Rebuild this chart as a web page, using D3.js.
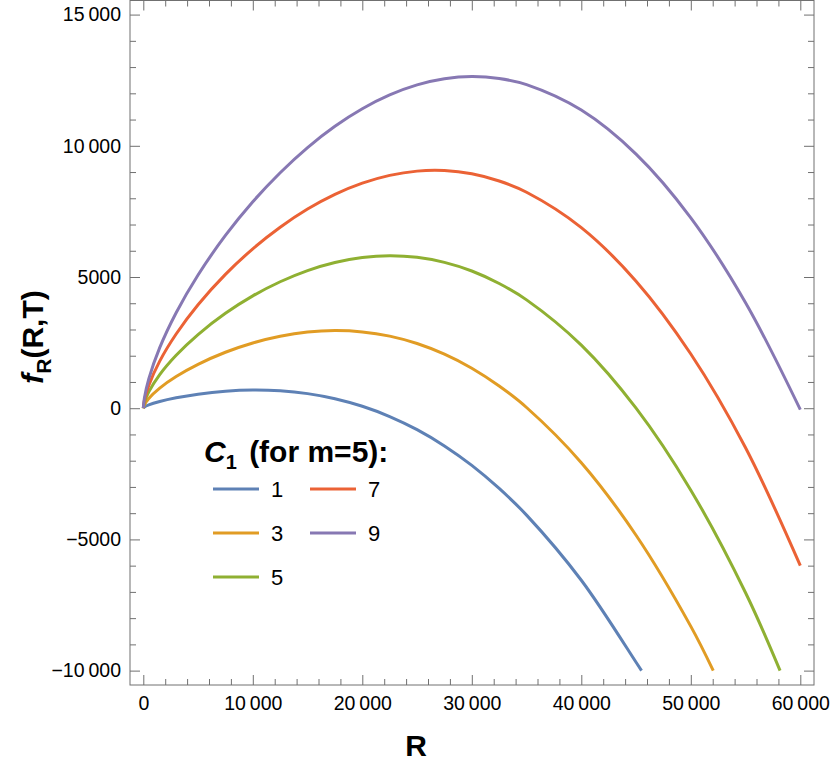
<!DOCTYPE html>
<html>
<head>
<meta charset="utf-8">
<script src="https://cdn.jsdelivr.net/npm/d3@7"></script>
<style>
	body { margin: 0; background: #fff; }
	text { font-family: "Liberation Sans", Arial, sans-serif; }
</style>
</head>
<body>
<script>
var cValues = ["1", "3", "5", "7", "9"];
var colors = ["#5e81b5", "#e19c24", "#8fb032", "#eb6235", "#8778b3"];

var rGrid = [0, 100, 500, 1500, 3000, 5000, 7500, 10000, 12500, 15000, 17500, 20000, 22500, 25000, 27500, 30000, 32500, 35000, 40000, 45000, 50000, 55000, 60000];

var f1 = [0, 43, 124, 255, 397, 536, 648, 692, 663, 556, 362, 73, -317, -818, -1437, -2180, -3059, -4074, -6556, -9681];
var f3 = [0, 129, 373, 768, 1208, 1672, 2132, 2486, 2741, 2901, 2957, 2908, 2747, 2466, 2060, 1525, 846, 27, -2076, -4840, -8313];
var f5 = [0, 215, 621, 1282, 2019, 2808, 3616, 4280, 4819, 5245, 5553, 5743, 5811, 5751, 5558, 5229, 4752, 4128, 2403, 1, -3123, -7032];
var f7 = [0, 300, 869, 1795, 2829, 3943, 5099, 6074, 6897, 7589, 8149, 8577, 8874, 9035, 9056, 8933, 8658, 8229, 6882, 4842, 2067, -1506, -6000];
var f9 = [0, 386, 1118, 2308, 3640, 5078, 6583, 7868, 8975, 9934, 10744, 11412, 11938, 12320, 12553, 12638, 12563, 12330, 11361, 9683, 7256, 4021, -55];

// where the first three curves leave through the bottom
var endR = [45500, 52050, 58150, null, null];
var endF = [-10000, -10000, -10000, null, null];

var xMajor = [0, 10000, 20000, 30000, 40000, 50000, 60000];
var yMajor = [-10000, -5000, 0, 5000, 10000, 15000];

var width = 830, height = 763;
var frame = {left: 130, right: 814, top: 0.5, bottom: 685};

var svg = d3.select("body").append("svg")
	.attr("width", width)
	.attr("height", height);

var x = d3.scaleLinear()
	.domain([-1215, 61250])
	.range([frame.left, frame.right]);

var y = d3.scaleLinear()
	.domain([-10548, 15537])
	.range([frame.bottom, frame.top]);

function fmt(v) {
	var s = String(Math.abs(v));
	if (s.length > 4) s = s.slice(0, -3) + "\u2009" + s.slice(-3);
	return (v < 0 ? "\u2212" : "") + s;
}

var xMinor = d3.range(2000, 61000, 2000).filter(function(v) { return xMajor.indexOf(v) < 0; });
var yMinor = d3.range(-9000, 15500, 1000).filter(function(v) { return yMajor.indexOf(v) < 0; });

var tickColor = "#707070";

function styleAxis(g) {
	g.select(".domain").remove();
	g.selectAll(".tick line").attr("stroke", tickColor).attr("stroke-width", 1);
	g.selectAll(".tick text").attr("fill", "#000").style("font-size", "19.5px").attr("font-family", "Liberation Sans, Arial, sans-serif");
}

// bottom and left, labelled
svg.append("g")
	.attr("transform", "translate(0," + frame.bottom + ")")
	.call(d3.axisBottom(x).tickValues(xMajor).tickSize(-10).tickPadding(11).tickFormat(fmt))
	.call(styleAxis);
svg.append("g")
	.attr("transform", "translate(0," + frame.bottom + ")")
	.call(d3.axisBottom(x).tickValues(xMinor).tickSize(-6).tickFormat(""))
	.call(styleAxis);
svg.append("g")
	.attr("transform", "translate(" + frame.left + ",0)")
	.call(d3.axisLeft(y).tickValues(yMajor).tickSize(-10).tickPadding(9).tickFormat(fmt))
	.call(styleAxis);
svg.append("g")
	.attr("transform", "translate(" + frame.left + ",0)")
	.call(d3.axisLeft(y).tickValues(yMinor).tickSize(-6).tickFormat(""))
	.call(styleAxis);

// top and right, ticks only
svg.append("g")
	.attr("transform", "translate(0," + frame.top + ")")
	.call(d3.axisTop(x).tickValues(xMajor).tickSize(-10).tickFormat(""))
	.call(styleAxis);
svg.append("g")
	.attr("transform", "translate(0," + frame.top + ")")
	.call(d3.axisTop(x).tickValues(xMinor).tickSize(-6).tickFormat(""))
	.call(styleAxis);
svg.append("g")
	.attr("transform", "translate(" + frame.right + ",0)")
	.call(d3.axisRight(y).tickValues(yMajor).tickSize(-10).tickFormat(""))
	.call(styleAxis);
svg.append("g")
	.attr("transform", "translate(" + frame.right + ",0)")
	.call(d3.axisRight(y).tickValues(yMinor).tickSize(-6).tickFormat(""))
	.call(styleAxis);

svg.append("rect")
	.attr("x", frame.left)
	.attr("y", frame.top)
	.attr("width", frame.right - frame.left)
	.attr("height", frame.bottom - frame.top)
	.attr("fill", "none")
	.attr("stroke", tickColor)
	.attr("stroke-width", 1);

// curves
var series = [f1, f3, f5, f7, f9].map(function(vals, i) {
	var pts = vals.map(function(v, j) { return [rGrid[j], v]; });
	if (endR[i] != null) pts.push([endR[i], endF[i]]);
	return pts;
});

var line = d3.line()
	.x(function(d) { return x(d[0]); })
	.y(function(d) { return y(d[1]); })
	.curve(d3.curveCatmullRom.alpha(0.5));

svg.append("g")
	.selectAll("path")
	.data(series)
  .enter().append("path")
	.attr("d", line)
	.attr("fill", "none")
	.attr("stroke", function(d, i) { return colors[i]; })
	.attr("stroke-width", 3);

// axis titles
svg.append("text")
	.attr("x", 416)
	.attr("y", 756)
	.attr("text-anchor", "middle")
	.style("font-size", "30px")
	.style("font-weight", "bold")
	.text("R");

var yt = svg.append("text")
	.attr("transform", "translate(43,337) rotate(-90)")
	.attr("text-anchor", "middle")
	.style("font-size", "30px")
	.style("font-weight", "bold");
yt.append("tspan").style("font-style", "italic").text("f");
yt.append("tspan").attr("dy", 8).style("font-size", "21px").text("R");
yt.append("tspan").attr("dy", -8).text("(R,T)");

// legend
var legend = svg.append("g");
var lt = legend.append("text")
	.attr("x", 204)
	.attr("y", 462)
	.style("font-size", "30px")
	.style("font-weight", "bold");
lt.append("tspan").style("font-style", "italic").text("C");
lt.append("tspan").attr("dy", 7).style("font-size", "20px").text("1");
lt.append("tspan").attr("dy", -7).attr("dx", 4).text(" (for m=5):");

var item = legend.selectAll(".item")
	.data(cValues)
  .enter().append("g")
	.attr("class", "item")
	.attr("transform", function(d, i) {
		return "translate(" + (213 + Math.floor(i / 3) * 97) + "," + (489 + (i % 3) * 44) + ")";
	});

item.append("line")
	.attr("x1", 0)
	.attr("x2", 46)
	.attr("stroke", function(d, i) { return colors[i]; })
	.attr("stroke-width", 3);

item.append("text")
	.attr("x", 58)
	.attr("y", 8)
	.style("font-size", "22px")
	.text(function(d) { return d; });
</script>
</body>
</html>
